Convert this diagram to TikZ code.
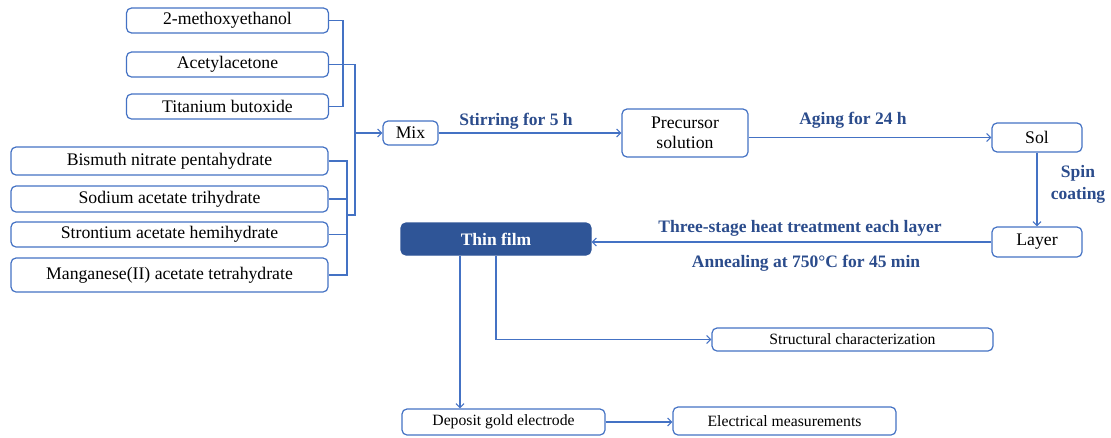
\documentclass[tikz,border=0pt]{standalone}
\usepackage{fontspec}
\IfFontExistsTF{LiberationSerif-Regular.ttf}{%
  \setmainfont{LiberationSerif}[Extension=.ttf, UprightFont=*-Regular, BoldFont=*-Bold, ItalicFont=*-Italic, BoldItalicFont=*-BoldItalic]%
}{%
  \setmainfont{Liberation Serif}%
}
\usetikzlibrary{arrows.meta,calc}
\definecolor{lineblue}{HTML}{4472C4}
\definecolor{darkblue}{HTML}{2F5597}
\definecolor{labblue}{HTML}{2B4C8C}
\tikzset{
  box/.style={draw=lineblue, line width=1.2pt, rounded corners=5pt, fill=white, inner sep=0pt, align=center, font=\rmfamily\fontsize{17.7}{20}\selectfont},
  sbox/.style={box, font=\rmfamily\fontsize{15.7}{18}\selectfont},
  conn/.style={draw=lineblue, line width=1.1pt},
  arr/.style={conn, -{Straight Barb[length=4pt,width=8pt]}},
  lab/.style={text=labblue, font=\rmfamily\fontsize{17.5}{20}\selectfont\bfseries, inner sep=0pt},
}
\begin{document}
\begin{tikzpicture}[x=1pt,y=-1pt]
\useasboundingbox (0,0) rectangle (1111,437);
% left material boxes
\node[box, minimum width=202pt, minimum height=25pt] (m1) at (227.5,20.5) {2-methoxyethanol};
\node[box, minimum width=202pt, minimum height=25pt] (m2) at (227.5,64.5) {Acetylacetone};
\node[box, minimum width=202pt, minimum height=25pt] (m3) at (227.5,106.5) {Titanium butoxide};
\node[box, minimum width=317pt, minimum height=28pt] (b1) at (169.5,161) {Bismuth nitrate pentahydrate};
\node[box, minimum width=317pt, minimum height=26pt] (b2) at (169.5,199) {Sodium acetate trihydrate};
\node[box, minimum width=317pt, minimum height=25pt] (b3) at (169.5,234.5) {Strontium acetate hemihydrate};
\node[box, minimum width=317pt, minimum height=34pt] (b4) at (169.5,275) {Manganese(II) acetate tetrahydrate};
% process boxes
\node[box, minimum width=55pt, minimum height=24pt] (mix) at (410.5,133) {Mix};
\node[box, minimum width=126pt, minimum height=48pt] (prec) at (685,133) {Precursor\\solution};
\node[box, minimum width=90pt, minimum height=29pt] (sol) at (1037,137.5) {Sol};
\node[box, minimum width=90pt, minimum height=30pt] (layer) at (1037,242) {Layer};
\node[box, draw=darkblue, fill=darkblue, text=white, minimum width=190pt, minimum height=32pt, font=\rmfamily\fontsize{17.5}{20}\selectfont\bfseries] (thin) at (496,239) {Thin film};
\node[sbox, minimum width=281pt, minimum height=23pt] (struct) at (852.5,339.5) {Structural characterization};
\node[sbox, minimum width=203pt, minimum height=26pt] (dep) at (503.5,422) {Deposit gold electrode};
\node[sbox, minimum width=223pt, minimum height=28pt] (elec) at (784.5,421) {Electrical measurements};
% junction coordinates
\coordinate (jt) at (343,20.5);
\coordinate (jb) at (347,161);
\coordinate (jm) at (355,64.5);
\coordinate (jj) at (355,215);
% brackets
\draw[conn] (m1.east) -- (jt) -- (jt |- m3.east) -- (m3.east);
\draw[conn] (m2.east) -- (jm) -- (jj) -- (jj -| jb);
\draw[conn] (b1.east) -- (jb) -- (jb |- b4.east) -- (b4.east);
\draw[conn] (b2.east) -- (b2.east -| jb);
\draw[conn] (b3.east) -- (b3.east -| jb);
\draw[arr] (jm |- mix.west) -- (mix.west);
% process arrows
\draw[arr] (mix.east) -- (prec.west);
\draw[arr] (prec.east |- sol.west) -- (sol.west);
\draw[arr] (sol.south) -- (layer.north);
\draw[arr] (layer.west) -- (thin.east |- layer.west);
\draw[arr] (thin.south) |- (struct.west);
\draw[arr] ([xshift=-36pt]thin.south) -- ([xshift=-36pt]thin.south |- dep.north);
\draw[arr] (dep.east) -- (dep.east -| elec.west);
% labels
\node[lab] (l1) at (516,121) {Stirring for 5 h};
\node[lab] (l2) at (853,120) {Aging for 24 h};
\node[lab] (l3) at (1078,173) {Spin};
\node[lab] (l4) at (1078,195) {coating};
\node[lab] (l5) at (800,228) {Three-stage heat treatment each layer};
\node[lab] (l6) at (806,263) {Annealing at 750°C for 45 min};
\end{tikzpicture}
\end{document}
